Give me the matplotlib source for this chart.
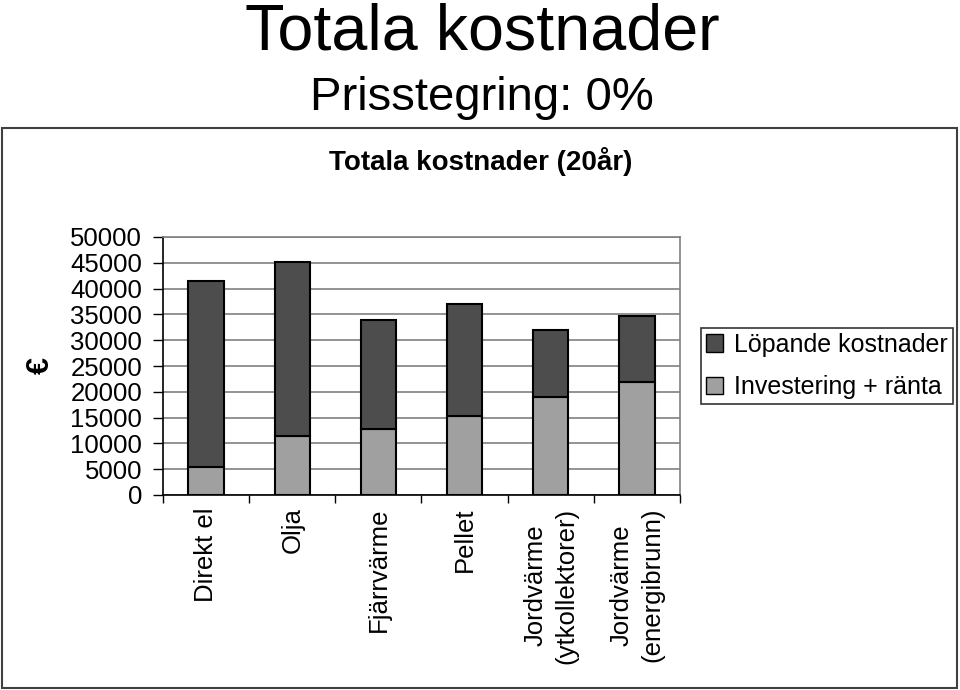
import matplotlib
matplotlib.use("Agg")
import matplotlib.pyplot as plt
from matplotlib.patches import Rectangle, Patch

plt.rcParams['font.family'] = ['Liberation Sans', 'DejaVu Sans']

categories = ["Direkt el", "Olja", "Fjärrvärme", "Pellet",
              "Jordvärme\n(ytkollektorer)", "Jordvärme\n(energibrunn)"]
investering = [5400, 11400, 12800, 15300, 19000, 21900]
totalt = [41500, 45200, 33900, 37100, 32000, 34600]
lopande = [t - i for t, i in zip(totalt, investering)]
yticks = [0, 5000, 10000, 15000, 20000, 25000, 30000, 35000, 40000, 45000, 50000]

fig = plt.figure(figsize=(9.6, 6.9), dpi=100)
W, H = 960, 690

# outer chart frame
fig.patches.append(Rectangle((2 / W, 2 / H), 955 / W, 560 / H, transform=fig.transFigure,
                             fill=False, edgecolor='#404040', linewidth=1.5))

fig.text(482 / W, 1 - 49 / H, "Totala kostnader", ha='center', va='baseline', fontsize=46.5)
fig.text(482 / W, 1 - 110 / H, "Prisstegring: 0%", ha='center', va='baseline', fontsize=34)
fig.text(481 / W, 1 - 162 / H, "Totala kostnader (20år)", ha='center', va='center',
         fontsize=20, fontweight='bold')

ax = fig.add_axes([163 / W, 1 - 495 / H, 517 / W, 258 / H])
x = list(range(len(categories)))
width = 0.41
ax.bar(x, investering, width, color='#a0a0a0', edgecolor='black', linewidth=1.5,
       label='Investering + ränta', zorder=3)
ax.bar(x, lopande, width, bottom=investering, color='#4d4d4d', edgecolor='black',
       linewidth=1.5, label='Löpande kostnader', zorder=3)

ax.set_xlim(-0.5, len(categories) - 0.5)
ax.set_ylim(0, 50000)
ax.set_yticks(yticks)
ax.set_yticklabels([str(v) for v in yticks], fontsize=18.5)
ax.yaxis.grid(True, color='#808080', linewidth=1.2, zorder=0)
ax.set_axisbelow(True)

ax.set_xticks([i - 0.5 for i in range(len(categories) + 1)])
ax.set_xticklabels([])
ax.set_xticks(x, minor=True)
ax.set_xticklabels(categories, minor=True, rotation=90, fontsize=18.5, ha='center',
                   va='top', multialignment='center', linespacing=1.35)
ax.tick_params(axis='x', which='minor', length=0, pad=9)
ax.tick_params(axis='x', which='major', length=6, direction='out', width=1)
ax.tick_params(axis='y', length=7, direction='out', width=1, pad=8)

for s in ['left', 'bottom']:
    ax.spines[s].set_color('black')
    ax.spines[s].set_linewidth(1.2)
for s in ['top', 'right']:
    ax.spines[s].set_color('#808080')
    ax.spines[s].set_linewidth(1.2)

fig.text(41 / W, 1 - 365 / H, "€", rotation=90, ha='center', va='center', fontsize=22,
         fontweight='bold')

handles = [Patch(facecolor='#4d4d4d', edgecolor='black', label='Löpande kostnader'),
           Patch(facecolor='#a0a0a0', edgecolor='black', label='Investering + ränta')]
leg = fig.legend(handles=handles, loc='center', bbox_to_anchor=(827 / W, 1 - 366 / H),
                 fontsize=18, frameon=True, fancybox=False, edgecolor='black',
                 handlelength=0.7, handleheight=0.7, handletextpad=0.45,
                 borderpad=0.2, labelspacing=0.75, borderaxespad=0)
leg.get_frame().set_linewidth(1.2)

fig.savefig("out.png", dpi=100)
